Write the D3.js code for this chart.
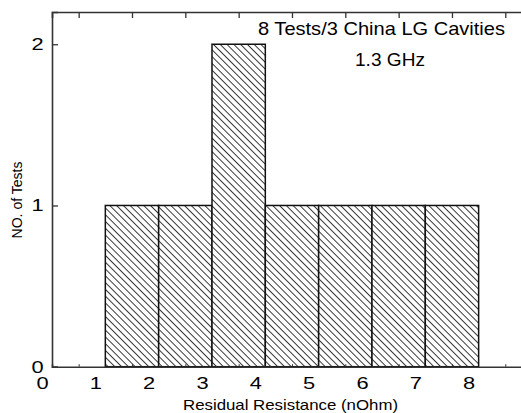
<!DOCTYPE html>
<html>
<head>
<meta charset="utf-8">
<script src="https://cdn.jsdelivr.net/npm/d3@7"></script>
<style>
  body { margin: 0; background: #fff; }
  text { font-family: "Liberation Sans", Arial, sans-serif; fill: #000; }
</style>
</head>
<body>
<svg id="chart"></svg>
<script>
// histogram bins (nOhm) and number of tests in each
var binStart = [1, 2, 3, 4, 5, 6, 7];
var binWidth = 1;
var counts = [1, 1, 2, 1, 1, 1, 1];

var xTicks = [0, 1, 2, 3, 4, 5, 6, 7, 8];
var xMinor = [0.5, 1.5, 2.5, 3.5, 4.5, 5.5, 6.5, 7.5, 8.5];
var yTicks = [0, 1, 2];

var titleLines = ['8 Tests/3 China LG Cavities', '1.3 GHz'];
var xTitle = 'Residual Resistance (nOhm)';
var yTitle = 'NO. of Tests';

var W = 521, H = 413;
var mLeft = 52, mTop = 12, mBottom = 366.7;

var svg = d3.select('#chart')
  .attr('width', W)
  .attr('height', H);

var x = d3.scaleLinear().domain([0, 9]).range([mLeft, mLeft + 9 * 53.33]);
var y = d3.scaleLinear().domain([0, 2.2]).range([mBottom, mTop]);

// hatch pattern
var defs = svg.append('defs');
var pat = defs.append('pattern')
  .attr('id', 'hatch')
  .attr('patternUnits', 'userSpaceOnUse')
  .attr('width', 4.8)
  .attr('height', 4.8)
  .attr('patternTransform', 'rotate(45)');
pat.append('rect').attr('width', 4.8).attr('height', 4.8).attr('fill', '#fff');
pat.append('line')
  .attr('x1', 0).attr('y1', 0.5).attr('x2', 4.8).attr('y2', 0.5)
  .attr('stroke', '#222')
  .attr('stroke-width', 0.9);

// bars
var bins = binStart.map(function(b, i) { return {x0: b, x1: b + binWidth, n: counts[i]}; });
svg.selectAll('rect.bar')
  .data(bins)
  .enter()
  .append('rect')
  .attr('class', 'bar')
  .attr('x', function(d) { return x(d.x0); })
  .attr('width', function(d) { return x(d.x1) - x(d.x0); })
  .attr('y', function(d) { return y(d.n); })
  .attr('height', function(d) { return y(0) - y(d.n); })
  .attr('fill', 'url(#hatch)')
  .attr('stroke', '#111')
  .attr('stroke-width', 1.5);

// bottom axis (minor ticks inside, labels shifted left like the original)
var xAxis = svg.append('g')
  .attr('transform', 'translate(0,' + mBottom + ')')
  .call(d3.axisBottom(x).tickValues(xMinor).tickSize(-2.5).tickFormat(''));
xAxis.selectAll('.tick line').attr('stroke', '#333').attr('stroke-width', 1);
xAxis.select('.domain').attr('stroke', '#333').attr('stroke-width', 1.6);

var xLab = svg.append('g')
  .attr('transform', 'translate(0,' + mBottom + ')')
  .call(d3.axisBottom(x).tickValues(xTicks).tickSize(0).tickPadding(10.5));
xLab.select('.domain').remove();
xLab.selectAll('.tick').attr('transform', function(d) { return 'translate(' + (x(d) - 9.5) + ',0)'; });
xLab.selectAll('.tick text')
  .attr('font-size', 16.8)
  .attr('font-family', 'Liberation Sans, Arial, sans-serif')
  .attr('transform', 'scale(1.3,1)');

// top axis
var topAxis = svg.append('g')
  .attr('transform', 'translate(0,' + mTop + ')')
  .call(d3.axisTop(x).tickValues(xMinor).tickSize(-6).tickFormat(''));
topAxis.selectAll('.tick line').attr('stroke', '#333').attr('stroke-width', 1.3);
topAxis.select('.domain').attr('stroke', '#333').attr('stroke-width', 1.6);

// left axis
var yAxis = svg.append('g')
  .attr('transform', 'translate(' + mLeft + ',0)')
  .call(d3.axisLeft(y).tickValues(yTicks).tickSize(-6).tickPadding(6.5).tickFormat(d3.format('d')));
yAxis.select('.domain').attr('stroke', '#333').attr('stroke-width', 1.6);
yAxis.selectAll('.tick line').attr('stroke', '#333').attr('stroke-width', 1.3);
yAxis.selectAll('.tick text')
  .attr('font-size', 16.8)
  .attr('font-family', 'Liberation Sans, Arial, sans-serif')
  .attr('transform', 'scale(1.3,1)');

// axis titles
svg.append('text')
  .attr('x', 290.5)
  .attr('y', 410)
  .attr('text-anchor', 'middle')
  .attr('font-size', 14.5)
  .attr('textLength', 215)
  .attr('lengthAdjust', 'spacingAndGlyphs')
  .text(xTitle);

svg.append('text')
  .attr('transform', 'translate(22,200) rotate(-90)')
  .attr('text-anchor', 'middle')
  .attr('font-size', 14)
  .text(yTitle);

// annotation
svg.selectAll('text.title')
  .data(titleLines)
  .enter()
  .append('text')
  .attr('class', 'title')
  .attr('x', function(d, i) { return i === 0 ? 381.5 : 390; })
  .attr('y', function(d, i) { return 35 + i * 31; })
  .attr('text-anchor', 'middle')
  .attr('font-size', 18.5)
  .attr('textLength', function(d, i) { return i === 0 ? 247 : 70; })
  .attr('lengthAdjust', 'spacingAndGlyphs')
  .text(function(d) { return d; });
</script>
</body>
</html>
